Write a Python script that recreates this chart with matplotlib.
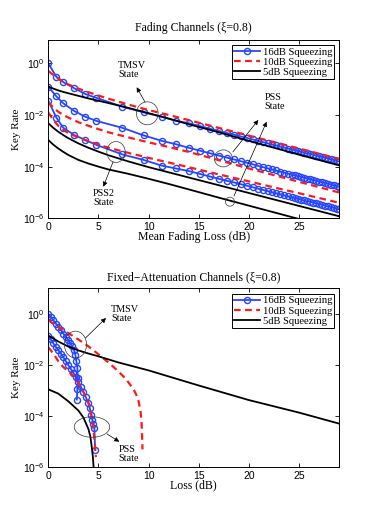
import numpy as np
import matplotlib
matplotlib.use('Agg')
import matplotlib.pyplot as plt
from matplotlib.patches import Ellipse
from matplotlib.lines import Line2D
from matplotlib.ticker import FixedLocator, NullLocator

plt.rcParams['font.family'] = ['Liberation Sans', 'DejaVu Sans']
SERIF = ['Liberation Serif', 'DejaVu Serif']

# ---------------- data (log10 of key rate) ----------------
# Fading channels
fade_mark_loss = [0, 0.8, 1.5, 2.6, 3.7, 4.8, 7.4, 9.5, 11.3, 12.7, 14.0, 15.1, 16.1, 17.0, 17.8,
                  18.5, 19.2, 19.8, 20.4, 20.9, 21.4, 21.9, 22.3, 22.7, 23.1, 23.5, 23.9, 24.3,
                  24.6, 24.9, 25.2, 25.5, 25.8, 26.1, 26.4, 26.7, 27.0, 27.3, 27.6, 27.9, 28.2,
                  28.5, 28.8, 29.0]
fade_tmsv16 = [0.0, -0.52, -0.73, -0.97, -1.19, -1.34, -1.68, -1.90, -2.07, -2.22, -2.32,
               -2.43, -2.53, -2.62, -2.70, -2.76, -2.83, -2.89, -2.95, -3.00, -3.05,
               -3.10, -3.14, -3.18, -3.22, -3.26, -3.30, -3.34, -3.37, -3.40, -3.43,
               -3.46, -3.49, -3.51, -3.54, -3.57, -3.60, -3.63, -3.66, -3.69, -3.72,
               -3.75, -3.78, -3.80]
fade_pss16 = [-0.90, -1.28, -1.55, -1.85, -2.07, -2.23, -2.50, -2.79, -3.00, -3.13, -3.27,
              -3.38, -3.48, -3.57, -3.65, -3.72, -3.79, -3.85, -3.91, -3.97, -4.02,
              -4.07, -4.11, -4.15, -4.19, -4.23, -4.27, -4.31, -4.34, -4.37, -4.40,
              -4.43, -4.46, -4.49, -4.52, -4.55, -4.58, -4.61, -4.64, -4.67, -4.70,
              -4.73, -4.76, -4.78]
fade_pss2_16 = [-1.45, -2.10, -2.50, -2.78, -2.97, -3.16, -3.53, -3.74, -3.96, -4.07, -4.17,
                -4.28, -4.38, -4.47, -4.55, -4.61, -4.68, -4.74, -4.80, -4.85, -4.90,
                -4.95, -4.99, -5.03, -5.07, -5.11, -5.15, -5.19, -5.22, -5.25, -5.28,
                -5.31, -5.34, -5.36, -5.39, -5.42, -5.45, -5.48, -5.51, -5.54, -5.57,
                -5.60, -5.63, -5.65]

fade_line_loss = [0, 0.5, 1, 1.5, 2, 3, 4, 5, 6, 8, 10, 12, 14, 17, 20, 23, 26, 29]
fade_tmsv10 = [-0.30, -0.45, -0.60, -0.72, -0.82, -0.98, -1.12, -1.25, -1.37, -1.60, -1.81,
               -2.00, -2.20, -2.50, -2.80, -3.10, -3.40, -3.70]
fade_pss10 = [-1.50, -1.72, -1.88, -2.00, -2.10, -2.28, -2.42, -2.55, -2.67, -2.87, -3.06,
              -3.24, -3.43, -3.75, -4.07, -4.38, -4.69, -5.00]
fade_pss2_10 = [-1.90, -2.20, -2.42, -2.58, -2.70, -2.87, -3.02, -3.15, -3.27, -3.47, -3.66,
                -3.84, -4.02, -4.30, -4.57, -4.85, -5.12, -5.40]
fade_tmsv5 = [-0.90, -0.98, -1.05, -1.11, -1.16, -1.26, -1.36, -1.45, -1.54, -1.73, -1.93,
              -2.14, -2.36, -2.67, -3.00, -3.32, -3.64, -3.95]
fade_pss2_5 = [-2.32, -2.50, -2.65, -2.78, -2.90, -3.10, -3.27, -3.42, -3.56, -3.80, -4.02,
               -4.22, -4.42, -4.72, -5.02, -5.32, -5.62, -5.92]
fade_pss5 = [-2.97, -3.15, -3.30, -3.43, -3.55, -3.74, -3.88, -4.00, -4.11, -4.28, -4.47,
             -4.67, -4.88, -5.20, -5.51, -5.82, -6.13, -6.44]

# Fixed-attenuation channels
fix_tmsv16_loss = [0, 0.25, 0.5, 0.75, 1.0, 1.25, 1.5, 1.75, 2.0, 2.2, 2.4, 2.55, 2.7, 2.8,
                   2.9, 2.95, 2.9, 2.85]
fix_tmsv16 = [0.0, -0.13, -0.25, -0.38, -0.50, -0.63, -0.77, -0.90, -1.04, -1.15, -1.27,
              -1.40, -1.60, -1.85, -2.10, -2.50, -2.95, -3.35]
fix_pss16_loss = [0, 0.25, 0.5, 0.75, 1.0, 1.25, 1.5, 1.75, 2.0, 2.25, 2.5, 2.75, 3.0, 3.25,
                  3.5, 3.75, 4.0, 4.15, 4.3, 4.4, 4.5, 4.6, 4.67]
fix_pss16 = [-0.87, -1.00, -1.15, -1.29, -1.42, -1.55, -1.69, -1.85, -2.01, -2.15, -2.30,
             -2.47, -2.65, -2.85, -3.05, -3.26, -3.50, -3.70, -3.95, -4.15, -4.30, -4.46, -5.33]
fix_tmsv10_loss = [0, 1, 2, 3, 4, 5, 6, 7, 7.5, 8, 8.5, 8.8, 9.0, 9.2, 9.3, 9.35, 9.4]
fix_tmsv10 = [-0.25, -0.50, -0.75, -1.00, -1.27, -1.58, -1.90, -2.25, -2.45, -2.68, -2.95,
              -3.18, -3.40, -3.80, -4.20, -4.70, -5.30]
fix_pss10_loss = [0, 0.5, 1.0, 1.5, 2.0, 2.5, 3.0, 3.5, 4.0, 4.25, 4.5, 4.65, 4.75]
fix_pss10 = [-1.30, -1.55, -1.85, -2.08, -2.25, -2.42, -2.70, -3.05, -3.45, -3.85, -4.50,
             -5.10, -5.60]
fix_tmsv5_loss = [0, 1, 2, 3, 4, 5, 7, 10, 15, 20, 25, 29]
fix_tmsv5 = [-0.85, -1.08, -1.28, -1.43, -1.55, -1.66, -1.90, -2.21, -2.80, -3.37, -3.86, -4.29]
fix_pss5_loss = [0, 1, 2, 2.5, 3, 3.5, 4.0, 4.2, 4.35, 4.45, 4.52, 4.56]
fix_pss5 = [-2.95, -3.12, -3.42, -3.60, -3.78, -4.05, -4.50, -4.80, -5.25, -5.60, -6.00, -6.40]

legend_labels = ['16dB Squeezing', '10dB Squeezing', '5dB Squeezing']
x_ticks = [0, 5, 10, 15, 20, 25]
y_ticks = [1e-6, 1e-4, 1e-2, 1e0]

BLUE = '#2746ff'
RED = '#ff1a1a'
blue_kw = dict(color=BLUE, lw=1.3, marker='o', ms=4.4, mfc='none', mew=1.0, mec=BLUE)
red_kw = dict(color=RED, lw=1.6, ls=(0, (3.0, 2.0)))
black_kw = dict(color='black', lw=1.3)


def p(v):
    return 10.0 ** np.asarray(v)


fig = plt.figure(figsize=(3.74, 5.26), dpi=100)
ax1 = fig.add_axes([0.1291, 0.5850, 0.7773, 0.3399])
ax2 = fig.add_axes([0.1291, 0.1116, 0.7773, 0.3403])

# top panel
for yv in (fade_tmsv16, fade_pss16, fade_pss2_16):
    ax1.plot(fade_mark_loss, p(yv), **blue_kw)
for yv in (fade_tmsv10, fade_pss10, fade_pss2_10):
    ax1.plot(fade_line_loss, p(yv), **red_kw)
for yv in (fade_tmsv5, fade_pss2_5, fade_pss5):
    ax1.plot(fade_line_loss, p(yv), **black_kw)

# bottom panel
ax2.plot(fix_tmsv16_loss, p(fix_tmsv16), **blue_kw)
ax2.plot(fix_pss16_loss, p(fix_pss16), **blue_kw)
ax2.plot(fix_tmsv10_loss, p(fix_tmsv10), **red_kw)
ax2.plot(fix_pss10_loss, p(fix_pss10), **red_kw)
ax2.plot(fix_tmsv5_loss, p(fix_tmsv5), **black_kw)
ax2.plot(fix_pss5_loss, p(fix_pss5), **black_kw)

handles = [Line2D([], [], **blue_kw), Line2D([], [], **red_kw), Line2D([], [], **black_kw)]

for ax, ytop, title, xlabel in ((ax1, 10 ** 0.92, 'Fading Channels (\u03be=0.8)', 'Mean Fading Loss (dB)'),
                                (ax2, 10 ** 1.0, 'Fixed\u2212Attenuation Channels (\u03be=0.8)', 'Loss (dB)')):
    ax.set_yscale('log')
    ax.set_xlim(0, 29)
    ax.set_ylim(1e-6, ytop)
    ax.xaxis.set_major_locator(FixedLocator(x_ticks))
    ax.yaxis.set_major_locator(FixedLocator(y_ticks))
    ax.yaxis.set_minor_locator(NullLocator())
    ax.xaxis.set_minor_locator(NullLocator())
    ax.tick_params(direction='in', top=True, right=True, length=3, width=0.6,
                   labelsize=7.5, pad=2.5)
    for s in ax.spines.values():
        s.set_linewidth(0.7)
    ax.set_title(title, fontsize=8.5, family=SERIF, y=1.063, va='center', pad=0)
    ax.set_xlabel(xlabel, fontsize=8.5, family=SERIF)
    ax.xaxis.set_label_coords(0.5, -0.103)
    ax.xaxis.label.set_va('center')
    ax.set_ylabel('Key Rate', fontsize=8, family=SERIF)
    ax.yaxis.set_label_coords(-0.108, 0.5)
    ax.yaxis.label.set_va('center')
    leg = ax.legend(handles, legend_labels, loc='upper right', bbox_to_anchor=(0.984, 0.970),
                    borderaxespad=0, prop={'family': SERIF, 'size': 7.6}, fancybox=False,
                    edgecolor='black', framealpha=1, handlelength=2.5, handletextpad=0.2,
                    labelspacing=0.08, borderpad=0.22)
    leg.get_frame().set_linewidth(0.7)

ann_kw = dict(fontsize=7.3, family=SERIF, va='top', ha='left', linespacing=1.0)
arr = dict(arrowstyle='-|>', lw=0.5, color='black', mutation_scale=7, shrinkA=0, shrinkB=0)


def ell(ax, cx, cy, w, h):
    ax.add_patch(Ellipse((cx, cy), w, h, transform=ax.transAxes, fill=False,
                         lw=0.5, ec='#333333', zorder=5))


def arrow(ax, tail, head):
    ax.annotate('', xy=head, xytext=tail, xycoords='axes fraction',
                textcoords='axes fraction', arrowprops=arr, zorder=6)


# top annotations
ell(ax1, 0.3406, 0.5872, 0.0746, 0.1286)
arrow(ax1, (0.3326, 0.6504), (0.3041, 0.7327))
ax1.text(0.2398, 0.880, 'TMSV\nState', transform=ax1.transAxes, **ann_kw)
ell(ax1, 0.602, 0.335, 0.0619, 0.095)
ell(ax1, 0.625, 0.0928, 0.031, 0.050)
arrow(ax1, (0.635, 0.371), (0.7224, 0.5498))
arrow(ax1, (0.6388, 0.1247), (0.7513, 0.5403))
ax1.text(0.745, 0.700, 'PSS\nState', transform=ax1.transAxes, **ann_kw)
ell(ax1, 0.2329, 0.3708, 0.063, 0.117)
arrow(ax1, (0.2226, 0.3149), (0.1892, 0.1767))
ax1.text(0.154, 0.162, 'PSS2\nState', transform=ax1.transAxes, **ann_kw)

# bottom annotations
ell(ax2, 0.0936, 0.6855, 0.076, 0.150)
arrow(ax2, (0.128, 0.7223), (0.1985, 0.834))
ax2.text(0.2157, 0.905, 'TMSV\nState', transform=ax2.transAxes, **ann_kw)
ell(ax2, 0.1503, 0.2251, 0.1221, 0.1145)
arrow(ax2, (0.2019, 0.1862), (0.2442, 0.143))
ax2.text(0.2408, 0.127, 'PSS\nState', transform=ax2.transAxes, **ann_kw)

fig.savefig('out.png', dpi=100)
